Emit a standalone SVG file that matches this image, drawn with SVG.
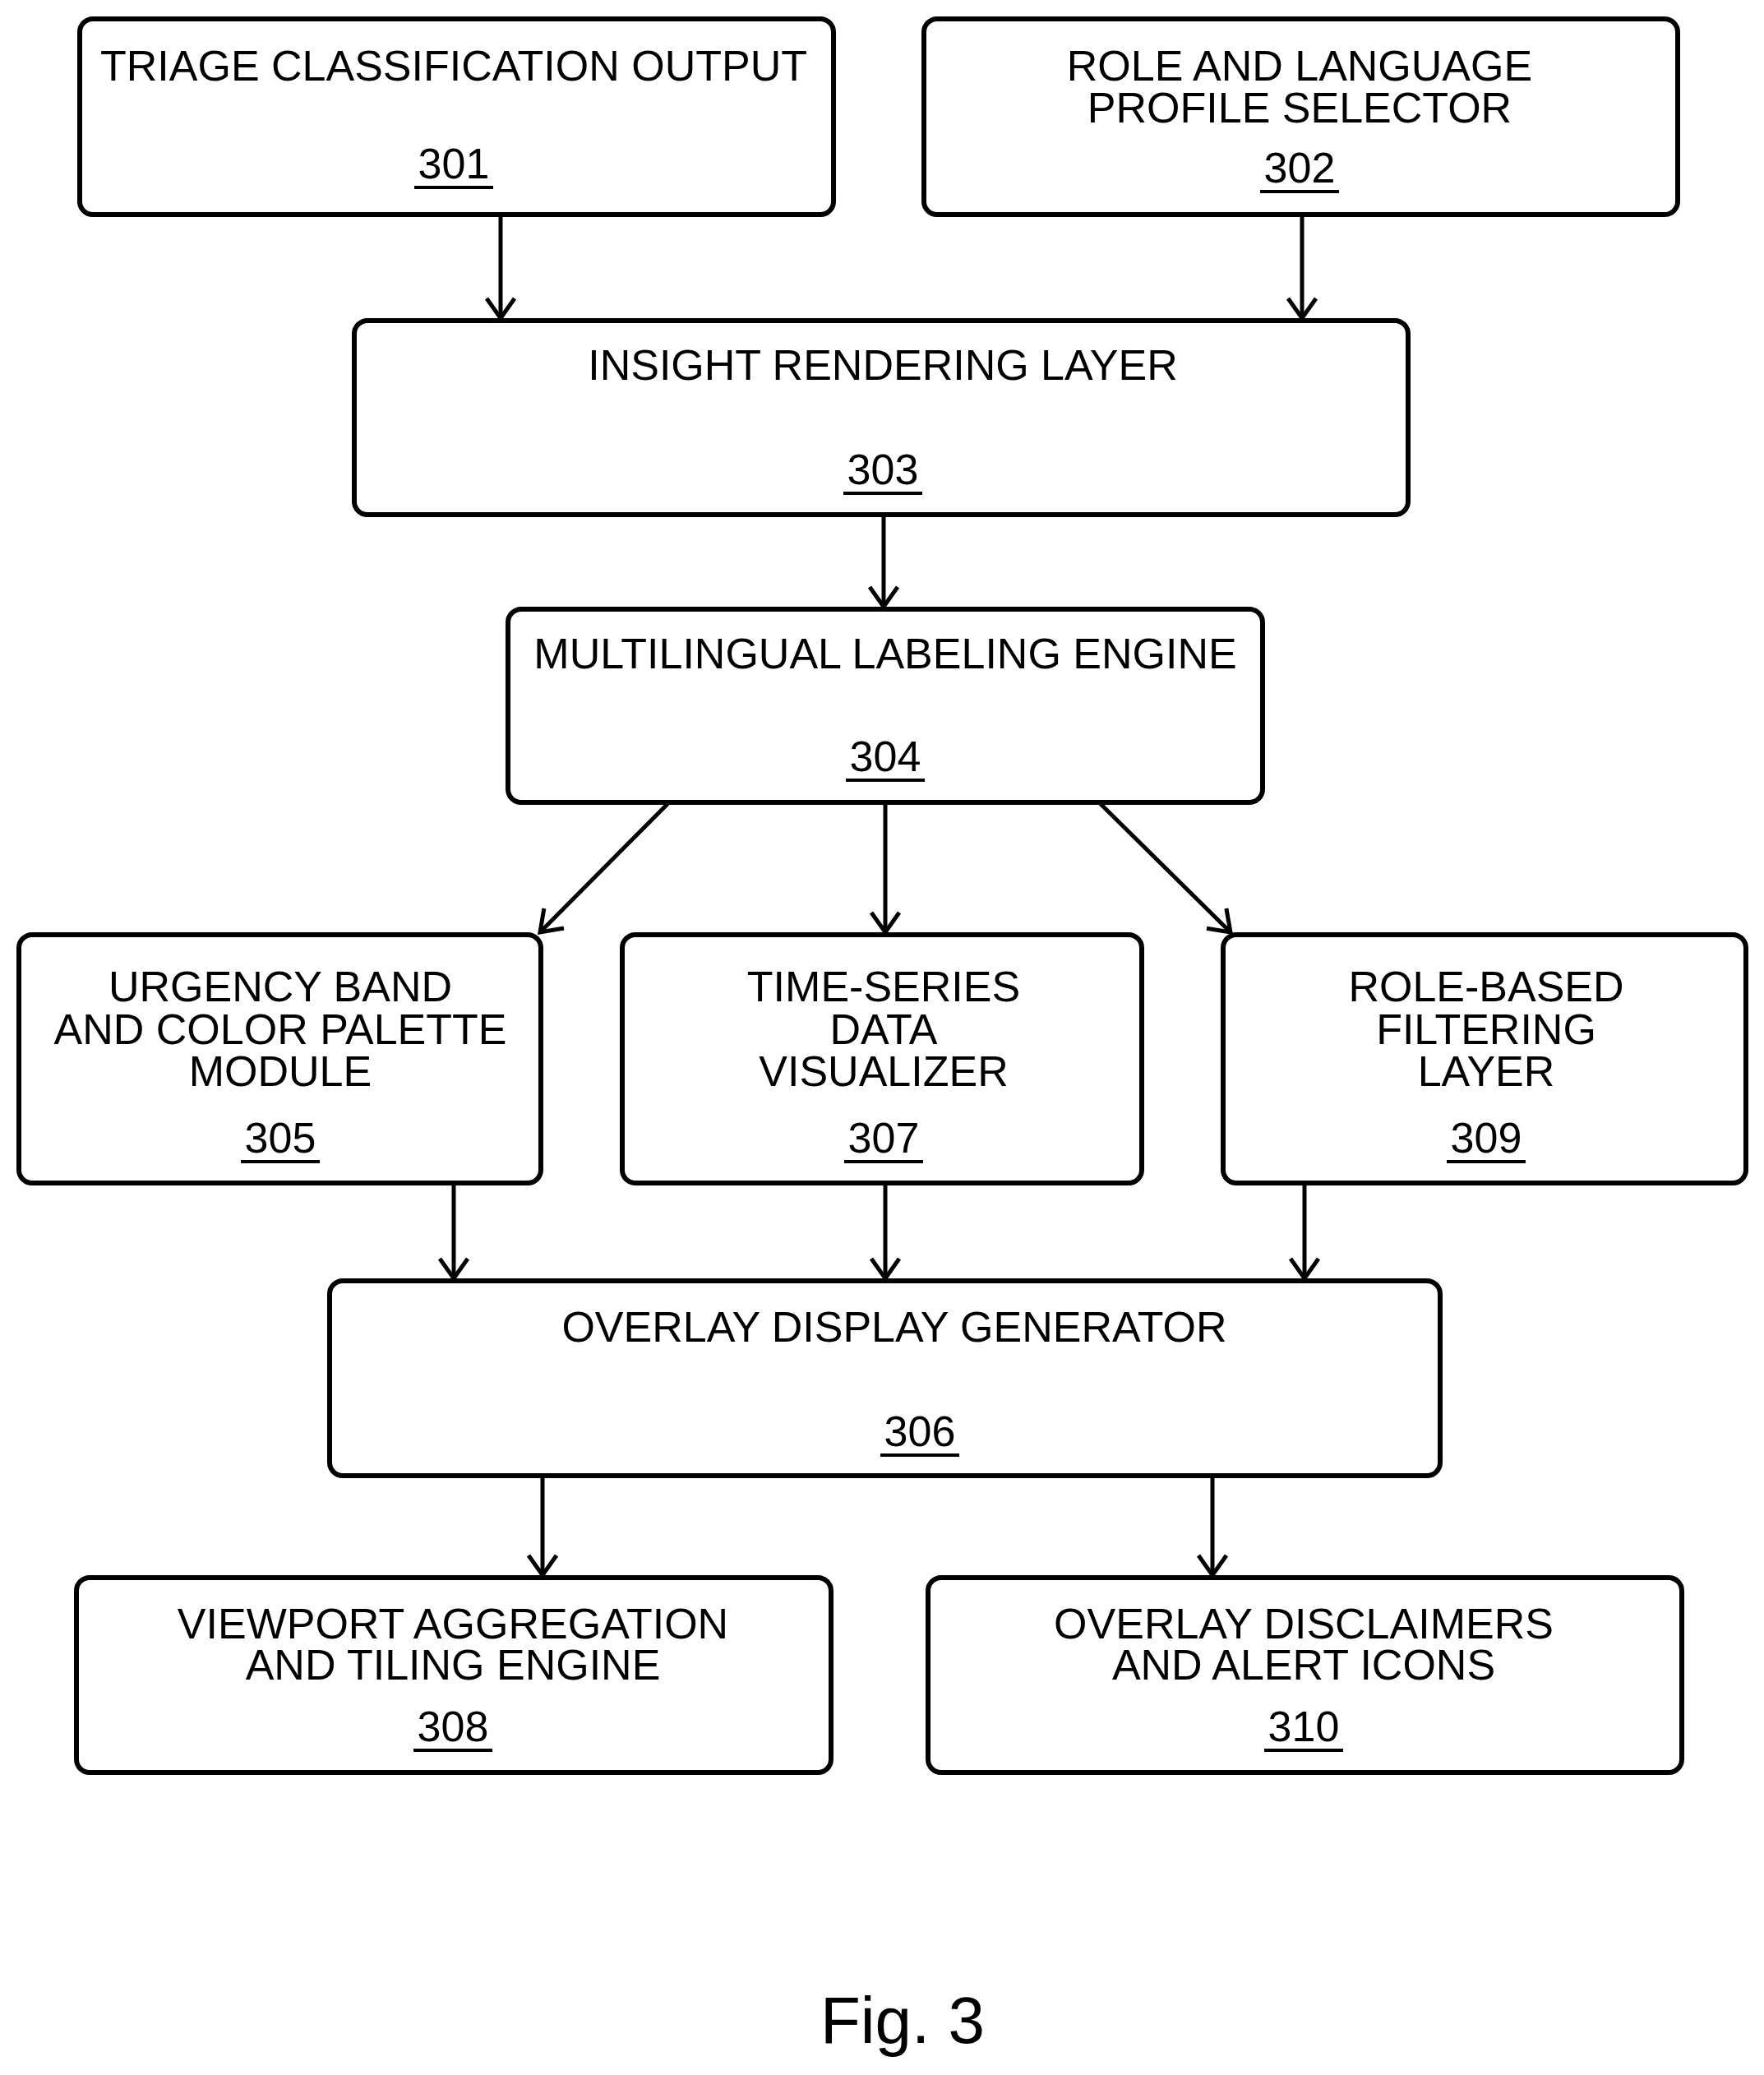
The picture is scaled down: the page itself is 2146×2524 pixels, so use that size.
<svg xmlns="http://www.w3.org/2000/svg" width="2146" height="2524" viewBox="0 0 2146 2524">
<style>
rect{fill:#fff;stroke:#000;stroke-width:6}
text{font-family:"Liberation Sans",Arial,sans-serif;font-size:52px;text-anchor:middle;fill:#000}
.u{stroke:#000;stroke-width:4}
#connectors line{stroke:#000;stroke-width:5;fill:none}
</style>
<defs>
<marker id="a" markerUnits="userSpaceOnUse" viewBox="-30 -20 34 40" refX="0" refY="0" markerWidth="34" markerHeight="40" orient="auto">
<path d="M-24,-17 L0,0 L-24,17" fill="none" stroke="#000" stroke-width="5"/>
</marker>
</defs>
<rect width="2146" height="2524" style="stroke:none"/>
<g id="n301"><rect x="97" y="23" width="917" height="238" rx="16"/><text x="552" y="98">TRIAGE CLASSIFICATION OUTPUT</text><text x="552" y="217">301</text><line class="u" x1="504" y1="228" x2="600" y2="228"/></g>
<g id="n302"><rect x="1124" y="23" width="917" height="238" rx="16"/><text x="1581" y="98">ROLE AND LANGUAGE</text><text x="1581" y="149">PROFILE SELECTOR</text><text x="1581" y="222">302</text><line class="u" x1="1533" y1="233" x2="1629" y2="233"/></g>
<g id="n303"><rect x="431" y="390" width="1282" height="236" rx="16"/><text x="1074" y="462">INSIGHT RENDERING LAYER</text><text x="1074" y="589">303</text><line class="u" x1="1026" y1="600" x2="1122" y2="600"/></g>
<g id="n304"><rect x="618" y="741" width="918" height="235" rx="16"/><text x="1077" y="813">MULTILINGUAL LABELING ENGINE</text><text x="1077" y="938">304</text><line class="u" x1="1029" y1="949" x2="1125" y2="949"/></g>
<g id="n305"><rect x="23" y="1137" width="635" height="302" rx="16"/><text x="341" y="1218">URGENCY BAND</text><text x="341" y="1270">AND COLOR PALETTE</text><text x="341" y="1321">MODULE</text><text x="341" y="1402">305</text><line class="u" x1="293" y1="1413" x2="389" y2="1413"/></g>
<g id="n307"><rect x="757" y="1137" width="632" height="302" rx="16"/><text x="1075" y="1218">TIME-SERIES</text><text x="1075" y="1270">DATA</text><text x="1075" y="1321">VISUALIZER</text><text x="1075" y="1402">307</text><line class="u" x1="1027" y1="1413" x2="1123" y2="1413"/></g>
<g id="n309"><rect x="1488" y="1137" width="636" height="302" rx="16"/><text x="1808" y="1218">ROLE-BASED</text><text x="1808" y="1270">FILTERING</text><text x="1808" y="1321">LAYER</text><text x="1808" y="1402">309</text><line class="u" x1="1760" y1="1413" x2="1856" y2="1413"/></g>
<g id="n306"><rect x="401" y="1558" width="1351" height="237" rx="16"/><text x="1088" y="1632">OVERLAY DISPLAY GENERATOR</text><text x="1119" y="1759">306</text><line class="u" x1="1071" y1="1770" x2="1167" y2="1770"/></g>
<g id="n308"><rect x="93" y="1919" width="918" height="237" rx="16"/><text x="551" y="1993">VIEWPORT AGGREGATION</text><text x="551" y="2043">AND TILING ENGINE</text><text x="551" y="2118">308</text><line class="u" x1="503" y1="2129" x2="599" y2="2129"/></g>
<g id="n310"><rect x="1129" y="1919" width="917" height="237" rx="16"/><text x="1586" y="1993">OVERLAY DISCLAIMERS</text><text x="1586" y="2043">AND ALERT ICONS</text><text x="1586" y="2118">310</text><line class="u" x1="1538" y1="2129" x2="1634" y2="2129"/></g>
<g id="connectors">
<line x1="609" y1="261" x2="609" y2="387" marker-end="url(#a)"/>
<line x1="1584" y1="261" x2="1584" y2="387" marker-end="url(#a)"/>
<line x1="1075" y1="626" x2="1075" y2="738" marker-end="url(#a)"/>
<line x1="813" y1="977" x2="657" y2="1134" marker-end="url(#a)"/>
<line x1="1077" y1="977" x2="1077" y2="1134" marker-end="url(#a)"/>
<line x1="1338" y1="977" x2="1497" y2="1134" marker-end="url(#a)"/>
<line x1="552" y1="1439" x2="552" y2="1555" marker-end="url(#a)"/>
<line x1="1077" y1="1439" x2="1077" y2="1555" marker-end="url(#a)"/>
<line x1="1587" y1="1439" x2="1587" y2="1555" marker-end="url(#a)"/>
<line x1="660" y1="1795" x2="660" y2="1916" marker-end="url(#a)"/>
<line x1="1475" y1="1795" x2="1475" y2="1916" marker-end="url(#a)"/>
</g>
<text x="1098" y="2485" style="font-size:80px">Fig. 3</text>
</svg>
